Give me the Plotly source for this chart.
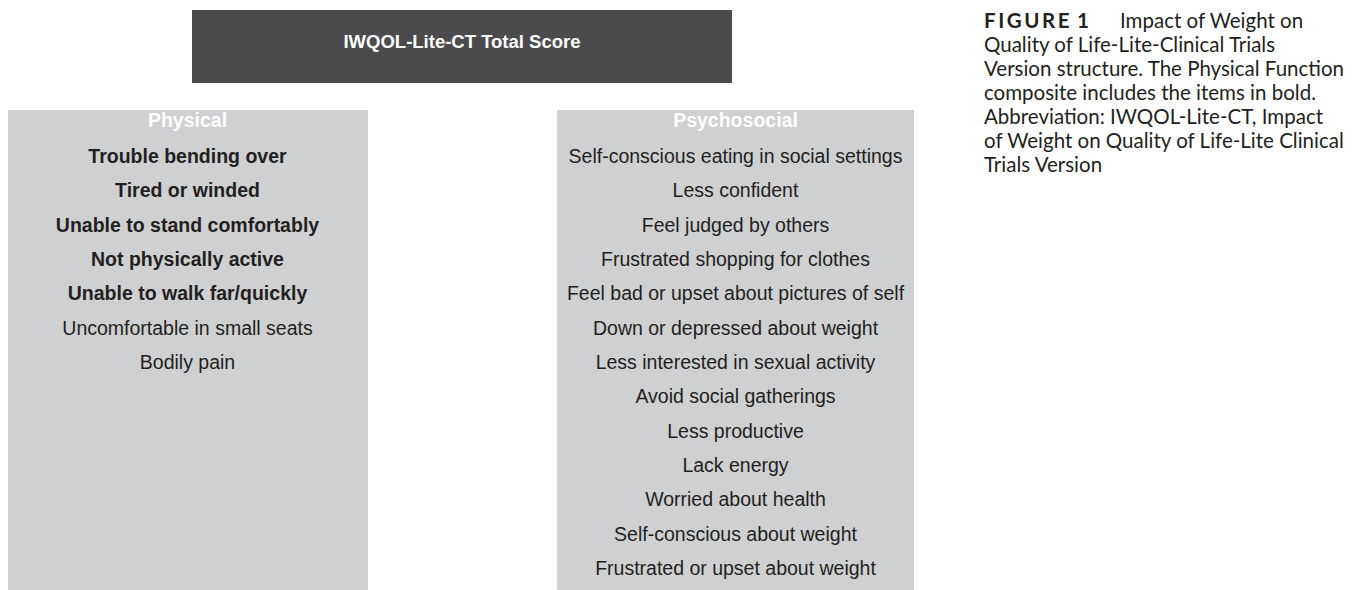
import plotly.graph_objects as go

title_text = "IWQOL-Lite-CT Total Score"
physical_header = "Physical"
physical_items = ["Trouble bending over", "Tired or winded", "Unable to stand comfortably",
                  "Not physically active", "Unable to walk far/quickly",
                  "Uncomfortable in small seats", "Bodily pain"]
physical_bold = [True, True, True, True, True, False, False]
psycho_header = "Psychosocial"
psycho_items = ["Self-conscious eating in social settings", "Less confident", "Feel judged by others",
                "Frustrated shopping for clothes", "Feel bad or upset about pictures of self",
                "Down or depressed about weight", "Less interested in sexual activity",
                "Avoid social gatherings", "Less productive", "Lack energy",
                "Worried about health", "Self-conscious about weight",
                "Frustrated or upset about weight"]
HS = "\u200a\u200a"
fig_label = HS.join("FIGURE") + " " + HS + "1"
caption_first = "Impact of Weight on"
caption_lines = ["Quality of Life-Lite-Clinical Trials",
                 "Version structure. The Physical Function",
                 "composite includes the items in bold.",
                 "Abbreviation: IWQOL-Lite-CT, Impact",
                 "of Weight on Quality of Life-Lite Clinical",
                 "Trials Version"]

W, H = 1365, 590
OFF = 8  # page body margin
DARK = "#4b4b4d"
GRAY = "#cfd0d2"
INK = "#231f20"
FONT = "Liberation Sans, Arial, sans-serif"
CFONT = "Lato, sans-serif"
FS = 19.5

phys_cx = (7 + 368) / 2
psy_cx = (557 + 914) / 2
row0, step = 158, 34.35
cap_y0, cap_step = 23, 24.0

fig = go.Figure()
shapes = [
    dict(type="rect", x0=192, x1=732, y0=10, y1=83, fillcolor=DARK, line_width=0, layer="below"),
    dict(type="rect", x0=7, x1=368, y0=110, y1=600, fillcolor=GRAY, line_width=0, layer="below"),
    dict(type="rect", x0=557, x1=914, y0=110, y1=600, fillcolor=GRAY, line_width=0, layer="below"),
]

common = dict(mode="text", hoverinfo="skip", cliponaxis=False)
fig.add_trace(go.Scatter(x=[(192 + 732) / 2], y=[43], text=["<b>" + title_text + "</b>"],
                         textfont=dict(family=FONT, size=18.5, color="white"), **common))
fig.add_trace(go.Scatter(x=[phys_cx, psy_cx], y=[122, 122],
                         text=["<b>" + physical_header + "</b>", "<b>" + psycho_header + "</b>"],
                         textfont=dict(family=FONT, size=FS, color="white"), **common))
fig.add_trace(go.Scatter(x=[phys_cx] * len(physical_items),
                         y=[row0 + i * step for i in range(len(physical_items))],
                         text=[("<b>%s</b>" % t) if b else t for t, b in zip(physical_items, physical_bold)],
                         textfont=dict(family=FONT, size=FS, color=INK), **common))
fig.add_trace(go.Scatter(x=[psy_cx] * len(psycho_items),
                         y=[row0 + i * step for i in range(len(psycho_items))],
                         text=psycho_items,
                         textfont=dict(family=FONT, size=FS, color=INK), **common))
# caption
fig.add_trace(go.Scatter(x=[984], y=[cap_y0], text=["<b>" + fig_label + "</b>"], textposition="middle right",
                         textfont=dict(family=CFONT, size=20.5, color=INK), **common))
fig.add_trace(go.Scatter(x=[1120], y=[cap_y0], text=[caption_first], textposition="middle right",
                         textfont=dict(family=CFONT, size=20.5, color=INK), **common))
fig.add_trace(go.Scatter(x=[984] * len(caption_lines),
                         y=[cap_y0 + (i + 1) * cap_step for i in range(len(caption_lines))],
                         text=caption_lines, textposition="middle right",
                         textfont=dict(family=CFONT, size=20.5, color=INK), **common))

fig.update_layout(width=W, height=H, margin=dict(l=0, r=0, t=0, b=0),
                  paper_bgcolor="white", plot_bgcolor="white", showlegend=False, shapes=shapes,
                  xaxis=dict(range=[OFF, W + OFF], visible=False, fixedrange=True),
                  yaxis=dict(range=[H + OFF, OFF], visible=False, fixedrange=True))
fig.write_html("out.html")
